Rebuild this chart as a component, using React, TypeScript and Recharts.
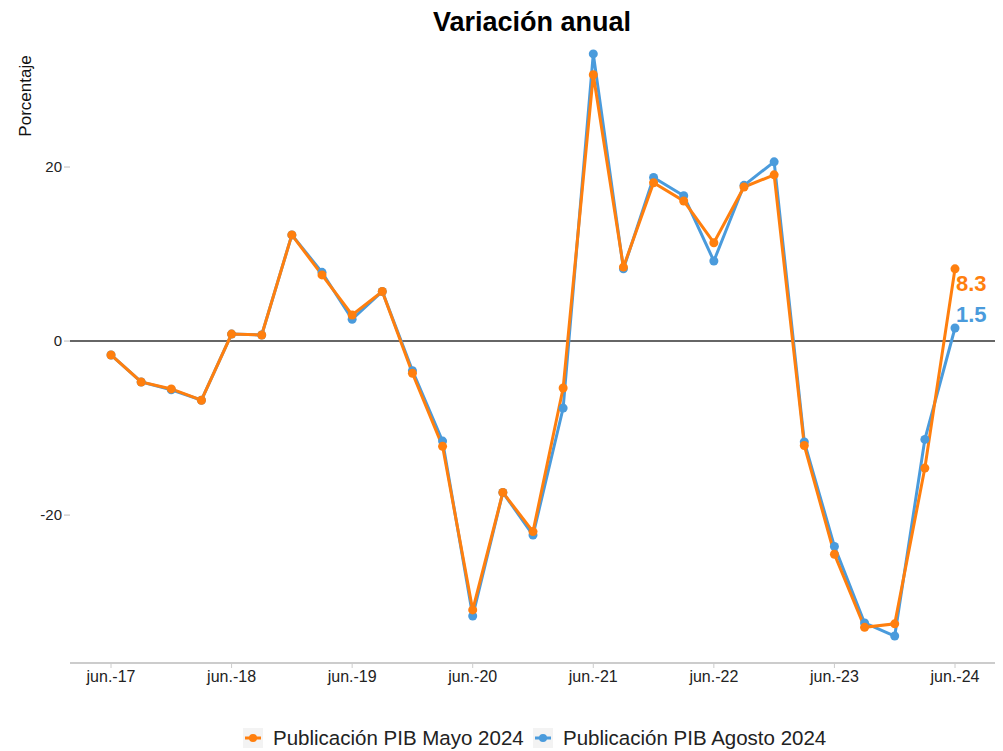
import { LineChart, Line, XAxis, YAxis, ReferenceLine, LabelList, Customized } from 'recharts';

// quarterly periods, jun-17 to jun-24
const periods = [
    'jun.-17', 'sep.-17', 'dic.-17', 'mar.-18',
    'jun.-18', 'sep.-18', 'dic.-18', 'mar.-19',
    'jun.-19', 'sep.-19', 'dic.-19', 'mar.-20',
    'jun.-20', 'sep.-20', 'dic.-20', 'mar.-21',
    'jun.-21', 'sep.-21', 'dic.-21', 'mar.-22',
    'jun.-22', 'sep.-22', 'dic.-22', 'mar.-23',
    'jun.-23', 'sep.-23', 'dic.-23', 'mar.-24',
    'jun.-24',
];

const mayo2024 = [
    -1.6, -4.7, -5.5, -6.8, 0.8, 0.7, 12.2, 7.6, 3.0, 5.7, -3.7, -12.1, -30.9, -17.4, -21.9,
    -5.4, 30.6, 8.5, 18.2, 16.1, 11.3, 17.7, 19.1, -12.0, -24.5, -32.9, -32.5, -14.6, 8.3,
];

const agosto2024 = [
    -1.6, -4.7, -5.6, -6.8, 0.8, 0.7, 12.2, 7.9, 2.5, 5.7, -3.4, -11.5, -31.6, -17.4, -22.3,
    -7.7, 33.0, 8.3, 18.8, 16.7, 9.2, 17.9, 20.6, -11.6, -23.6, -32.4, -33.9, -11.3, 1.5,
];

const yTicks = [-20, 0, 20];

const ORANGE = '#FF7F0E';
const BLUE = '#4A9BDC';

const seriesNames = ['Publicación PIB Mayo 2024', 'Publicación PIB Agosto 2024'];

const data = periods.map((p, i) => ({ period: p, mayo: mayo2024[i], agosto: agosto2024[i] }));
const lastIndex = periods.length - 1;

const font = '"Liberation Sans", Arial, Helvetica, sans-serif';

// only the last point gets a value label
const makeEndLabel = (color: string, dy: number) => (props: any) => {
    const { x, y, value, index } = props;
    if (index !== lastIndex) return null;
    return (
        <text
            x={Number(x) + 1}
            y={Number(y) + dy}
            fill={color}
            fontSize={22}
            fontWeight="bold"
            fontFamily={font}
            textAnchor="start"
        >
            {Number(value).toFixed(1)}
        </text>
    );
};

// legend drawn inside the svg so it sits at the bottom like the original
function SvgLegend() {
    const items = [
        { name: seriesNames[0], color: ORANGE, x: 243 },
        { name: seriesNames[1], color: BLUE, x: 533 },
    ];
    const cy = 738;
    return (
        <g>
            {items.map((it) => (
                <g key={it.name}>
                    <rect x={it.x} y={cy - 10} width={20} height={20} fill="#f3f3f3" />
                    <line x1={it.x + 2} y1={cy} x2={it.x + 18} y2={cy} stroke={it.color} strokeWidth={3} />
                    <circle cx={it.x + 10} cy={cy} r={4} fill={it.color} />
                    <text x={it.x + 30} y={cy + 7} fontSize={20.5} fontFamily={font} fill="#222">
                        {it.name}
                    </text>
                </g>
            ))}
        </g>
    );
}

export default function App() {
    return (
        <div style={{ position: 'absolute', left: 0, top: 0, width: 1003, height: 751, background: '#fff', fontFamily: font }}>
            <LineChart width={1003} height={751} data={data} margin={{ top: 40, right: 8, left: 0, bottom: 58 }}>
                <text x={532} y={31} textAnchor="middle" fontSize={27} fontWeight="bold" fontFamily={font} fill="#000">
                    Variación anual
                </text>
                <text
                    x={31}
                    y={96}
                    transform="rotate(-90 31 96)"
                    textAnchor="middle"
                    fontSize={17}
                    fontFamily={font}
                    fill="#111"
                >
                    Porcentaje
                </text>
                <XAxis
                    dataKey="period"
                    interval={3}
                    height={30}
                    padding={{ left: 41, right: 40 }}
                    axisLine={{ stroke: '#cccccc', strokeWidth: 2 }}
                    tickLine={{ stroke: '#cccccc' }}
                    tickSize={5}
                    tickMargin={3}
                    tick={{ fill: '#222', fontSize: 16, fontFamily: font }}
                />
                <YAxis
                    type="number"
                    domain={[-37, 34.6]}
                    ticks={yTicks}
                    width={70}
                    axisLine={false}
                    tickLine={{ stroke: '#bbbbbb' }}
                    tickSize={6}
                    tick={{ fill: '#222', fontSize: 15, fontFamily: font }}
                />
                <ReferenceLine y={0} stroke="#333" strokeWidth={1.5} />
                <Line
                    type="linear"
                    dataKey="agosto"
                    name={seriesNames[1]}
                    stroke={BLUE}
                    strokeWidth={3}
                    dot={{ r: 4.5, fill: BLUE, stroke: BLUE, strokeWidth: 0 }}
                    isAnimationActive={false}
                >
                    <LabelList dataKey="agosto" content={makeEndLabel(BLUE, -6)} />
                </Line>
                <Line
                    type="linear"
                    dataKey="mayo"
                    name={seriesNames[0]}
                    stroke={ORANGE}
                    strokeWidth={3}
                    dot={{ r: 4.5, fill: ORANGE, stroke: ORANGE, strokeWidth: 0 }}
                    isAnimationActive={false}
                >
                    <LabelList dataKey="mayo" content={makeEndLabel(ORANGE, 22)} />
                </Line>
                <Customized component={SvgLegend} />
            </LineChart>
        </div>
    );
}
